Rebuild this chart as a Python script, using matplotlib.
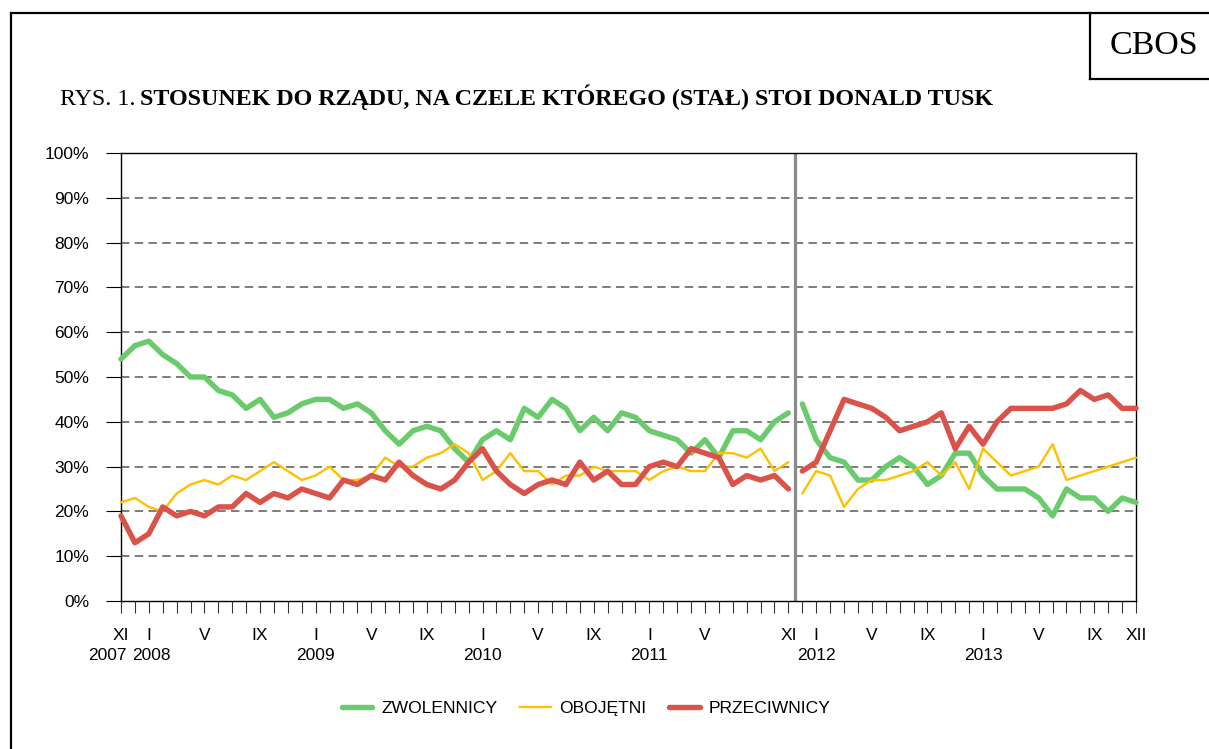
import matplotlib
matplotlib.use('Agg')
import matplotlib.pyplot as plt
from matplotlib.lines import Line2D
import numpy as np

# ---------------- data (percent), monthly XI 2007 .. XII 2013 ----------------
# first period: XI 2007 .. XI 2011 (49 months)
zwolennicy_a = [54, 57, 58, 55, 53, 50, 50, 47, 46, 43, 45, 41, 42, 44, 45, 45, 43, 44, 42, 38,
                35, 38, 39, 38, 34, 31, 36, 38, 36, 43, 41, 45, 43, 38, 41, 38, 42, 41, 38, 37,
                36, 33, 36, 32, 38, 38, 36, 40, 42]
obojetni_a = [22, 23, 21, 20, 24, 26, 27, 26, 28, 27, 29, 31, 29, 27, 28, 30, 27, 27, 28, 32,
              30, 30, 32, 33, 35, 33, 27, 29, 33, 29, 29, 26, 28, 28, 30, 29, 29, 29, 27, 29,
              30, 29, 29, 33, 33, 32, 34, 29, 31]
przeciwnicy_a = [19, 13, 15, 21, 19, 20, 19, 21, 21, 24, 22, 24, 23, 25, 24, 23, 27, 26, 28, 27,
                 31, 28, 26, 25, 27, 31, 34, 29, 26, 24, 26, 27, 26, 31, 27, 29, 26, 26, 30, 31,
                 30, 34, 33, 32, 26, 28, 27, 28, 25]
# second period: XII 2011 .. XII 2013 (25 months)
zwolennicy_b = [44, 36, 32, 31, 27, 27, 30, 32, 30, 26, 28, 33, 33, 28, 25, 25, 25, 23, 19, 25,
                23, 23, 20, 23, 22]
obojetni_b = [24, 29, 28, 21, 25, 27, 27, 28, 29, 31, 28, 31, 25, 34, 31, 28, 29, 30, 35, 27,
              28, 29, 30, 31, 32]
przeciwnicy_b = [29, 31, 38, 45, 44, 43, 41, 38, 39, 40, 42, 34, 39, 35, 40, 43, 43, 43, 43, 44,
                 47, 45, 46, 43, 43]

month_idx = [0, 2, 6, 10, 14, 18, 22, 26, 30, 34, 38, 42, 48, 50, 54, 58, 62, 66, 70, 73]
month_lab = ['XI', 'I', 'V', 'IX', 'I', 'V', 'IX', 'I', 'V', 'IX', 'I', 'V', 'XI',
             'I', 'V', 'IX', 'I', 'V', 'IX', 'XII']
year_idx = [0, 2, 14, 26, 38, 50, 62]
year_lab = ['2007', '2008', '2009', '2010', '2011', '2012', '2013']
y_ticks = [0, 10, 20, 30, 40, 50, 60, 70, 80, 90, 100]
series_names = ['ZWOLENNICY', 'OBOJĘTNI', 'PRZECIWNICY']

GREEN = '#6ACB6D'
YELLOW = '#FFC000'
RED = '#D9534A'

W, H = 1209, 749
fig = plt.figure(figsize=(W / 100, H / 100), dpi=100)


def fx(px):
    return px / W


def fy(py):
    return 1 - py / H


ax = fig.add_axes([fx(121), fy(601), fx(1136) - fx(121), fy(153) - fy(601)])

n_a = len(zwolennicy_a)
n_b = len(zwolennicy_b)
xa = np.arange(n_a)
xb = np.arange(n_a, n_a + n_b)

# grid
for v in y_ticks[1:-1]:
    ax.axhline(v, color='#585858', lw=1.1, ls=(0, (5.5, 3.5)), zorder=1)

ax.axvline(n_a - 0.5, color='#8a8a8a', lw=2.3, zorder=2)

kw = dict(solid_joinstyle='round', solid_capstyle='round', clip_on=False)
for xs, (g, y, r) in [(xa, (zwolennicy_a, obojetni_a, przeciwnicy_a)),
                      (xb, (zwolennicy_b, obojetni_b, przeciwnicy_b))]:
    ax.plot(xs, g, color=GREEN, lw=3.9, zorder=3, **kw)
    ax.plot(xs, y, color=YELLOW, lw=1.7, zorder=4, **kw)
    ax.plot(xs, r, color=RED, lw=3.9, zorder=5, **kw)

ax.set_xlim(0, n_a + n_b - 1)
ax.set_ylim(0, 100)
ax.set_yticks(y_ticks)
ax.set_yticklabels([f'{v}%' for v in y_ticks], family='Liberation Sans', fontsize=12.5)
ax.set_xticks(np.arange(n_a + n_b))
ax.set_xticklabels([])
ax.tick_params(axis='x', length=8.6, width=0.8, direction='out', color='#333333')
ax.tick_params(axis='y', length=11, width=0.8, direction='out', pad=12, color='black')
for s in ax.spines.values():
    s.set_color('black')
    s.set_linewidth(1.0)

tr = ax.get_xaxis_transform()
ym = (601 - 635) / 448
yy = (601 - 656) / 448
for i, lab in zip(month_idx, month_lab):
    ax.text(i, ym, lab, transform=tr, ha='center', va='center',
            family='Liberation Sans', fontsize=12.5)
for i, lab in zip(year_idx, year_lab):
    dx = 0
    if lab == '2007':
        dx = -0.95
    elif lab == '2008':
        dx = 0.2
    ax.text(i + dx, yy, lab, transform=tr, ha='center', va='center',
            family='Liberation Sans', fontsize=12.5)

# legend
handles = [Line2D([], [], color=GREEN, lw=3.9, solid_capstyle='round'),
           Line2D([], [], color=YELLOW, lw=1.7),
           Line2D([], [], color=RED, lw=3.9, solid_capstyle='round')]
fig.legend(handles, series_names, loc='center', bbox_to_anchor=(fx(586), fy(708)),
           ncol=3, frameon=False, prop={'family': 'Liberation Sans', 'size': 12.6},
           handlelength=1.75, handletextpad=0.5, columnspacing=1.3, borderpad=0)

# frame and CBOS box
lw_f = 1.6
fig.add_artist(Line2D([fx(11), fx(11)], [fy(13), 0], color='black', lw=lw_f,
                      transform=fig.transFigure))
fig.add_artist(Line2D([fx(11), 1], [fy(13), fy(13)], color='black', lw=lw_f,
                      transform=fig.transFigure))
fig.add_artist(Line2D([fx(1090), fx(1090)], [fy(13), fy(79)], color='black', lw=lw_f,
                      transform=fig.transFigure))
fig.add_artist(Line2D([fx(1090), 1], [fy(79), fy(79)], color='black', lw=lw_f,
                      transform=fig.transFigure))
fig.text(fx(1154), fy(46), 'CBOS', family='Liberation Serif', fontsize=24.5,
         ha='center', va='center')

# title
t1 = fig.text(fx(60), fy(105), 'RYS. 1.', family='Liberation Serif', fontsize=17.3,
              va='baseline', ha='left')
fig.canvas.draw()
bb = t1.get_window_extent(fig.canvas.get_renderer())
fig.text((bb.x1 + 5) / W, fy(105), 'STOSUNEK DO RZĄDU, NA CZELE KTÓREGO (STAŁ) STOI DONALD TUSK',
         family='Liberation Serif', fontsize=17.3, fontweight='bold', va='baseline', ha='left')

fig.savefig('out.png', dpi=100, facecolor='white')
